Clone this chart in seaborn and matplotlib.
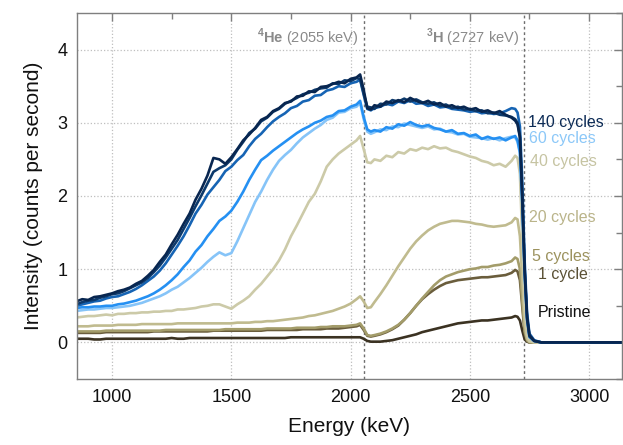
import matplotlib
matplotlib.use("Agg")
import matplotlib.pyplot as plt
from matplotlib.ticker import MultipleLocator
import seaborn as sns
import pandas as pd

# ---------------- data ----------------
energy = [850, 875, 900, 925, 950, 975, 1000, 1025, 1050, 1075, 1100, 1125,
          1150, 1175, 1200, 1225, 1250, 1275, 1300, 1325, 1350, 1375, 1400, 1425,
          1450, 1475, 1500, 1525, 1550, 1575, 1600, 1625, 1650, 1675, 1700, 1725,
          1750, 1775, 1800, 1825, 1850, 1875, 1900, 1925, 1950, 1975, 2000, 2025,
          2040, 2055, 2070, 2085,
          2100, 2125, 2150, 2175, 2200, 2225, 2250, 2275, 2300, 2325, 2350, 2375,
          2400, 2425, 2450, 2475, 2500, 2525, 2550, 2575, 2600, 2625, 2650, 2675,
          2690, 2700, 2710, 2720, 2730, 2740, 2750, 2770, 2800, 3150]

pristine = [0.05, 0.05, 0.05, 0.04, 0.04, 0.05, 0.05, 0.05, 0.05, 0.05, 0.05, 0.05,
            0.05, 0.05, 0.05, 0.05, 0.06, 0.05, 0.05, 0.06, 0.06, 0.06, 0.06, 0.06,
            0.06, 0.06, 0.06, 0.06, 0.06, 0.06, 0.06, 0.06, 0.06, 0.06, 0.06, 0.06,
            0.07, 0.07, 0.07, 0.07, 0.07, 0.07, 0.07, 0.07, 0.07, 0.07, 0.07, 0.07,
            0.07, 0.05, 0.02, 0.01,
            0.01, 0.01, 0.02, 0.03, 0.05, 0.07, 0.09, 0.11, 0.14, 0.16, 0.18, 0.20,
            0.22, 0.24, 0.26, 0.27, 0.28, 0.29, 0.30, 0.30, 0.31, 0.32, 0.33, 0.34,
            0.36, 0.35, 0.30, 0.16, 0.04, 0.01, 0.0, 0.0, 0.0, 0.0]
cyc1 = [0.13, 0.13, 0.13, 0.13, 0.13, 0.14, 0.14, 0.14, 0.14, 0.14, 0.14, 0.14,
        0.14, 0.15, 0.15, 0.15, 0.15, 0.15, 0.15, 0.15, 0.15, 0.15, 0.15, 0.16,
        0.16, 0.16, 0.16, 0.16, 0.16, 0.16, 0.16, 0.16, 0.17, 0.17, 0.17, 0.17,
        0.17, 0.17, 0.18, 0.18, 0.18, 0.18, 0.19, 0.19, 0.19, 0.20, 0.21, 0.22,
        0.24, 0.17, 0.09, 0.08,
        0.09, 0.11, 0.14, 0.18, 0.23, 0.31, 0.40, 0.50, 0.59, 0.66, 0.72, 0.77,
        0.81, 0.83, 0.85, 0.86, 0.87, 0.88, 0.89, 0.89, 0.90, 0.91, 0.92, 0.95,
        0.99, 0.97, 0.85, 0.48, 0.12, 0.02, 0.0, 0.0, 0.0, 0.0]
cyc5 = [0.15, 0.15, 0.15, 0.15, 0.15, 0.16, 0.16, 0.16, 0.16, 0.16, 0.16, 0.16,
        0.16, 0.16, 0.16, 0.17, 0.17, 0.17, 0.17, 0.17, 0.17, 0.17, 0.17, 0.17,
        0.17, 0.18, 0.18, 0.18, 0.18, 0.18, 0.18, 0.18, 0.19, 0.19, 0.19, 0.19,
        0.19, 0.20, 0.20, 0.20, 0.20, 0.21, 0.21, 0.22, 0.22, 0.22, 0.23, 0.24,
        0.26, 0.19, 0.10, 0.09,
        0.10, 0.12, 0.15, 0.19, 0.24, 0.31, 0.40, 0.50, 0.60, 0.69, 0.78, 0.85,
        0.90, 0.93, 0.96, 0.98, 1.00, 1.01, 1.03, 1.03, 1.05, 1.06, 1.08, 1.11,
        1.16, 1.14, 1.00, 0.55, 0.15, 0.03, 0.0, 0.0, 0.0, 0.0]
cyc20 = [0.22, 0.22, 0.22, 0.23, 0.23, 0.23, 0.23, 0.24, 0.24, 0.24, 0.24, 0.25,
         0.25, 0.25, 0.25, 0.25, 0.25, 0.26, 0.26, 0.26, 0.26, 0.26, 0.26, 0.26,
         0.26, 0.26, 0.26, 0.27, 0.27, 0.27, 0.28, 0.28, 0.29, 0.29, 0.30, 0.31,
         0.32, 0.33, 0.34, 0.36, 0.37, 0.39, 0.41, 0.43, 0.46, 0.49, 0.53, 0.59,
         0.63, 0.56, 0.47, 0.48,
         0.55, 0.66, 0.78, 0.91, 1.04, 1.16, 1.28, 1.38, 1.46, 1.53, 1.58, 1.62,
         1.64, 1.66, 1.66, 1.65, 1.64, 1.62, 1.61, 1.59, 1.58, 1.59, 1.60, 1.64,
         1.70, 1.68, 1.45, 0.85, 0.25, 0.05, 0.01, 0.0, 0.0, 0.0]
cyc40 = [0.34, 0.35, 0.36, 0.36, 0.37, 0.38, 0.37, 0.39, 0.39, 0.40, 0.40, 0.41,
         0.41, 0.42, 0.42, 0.43, 0.43, 0.45, 0.45, 0.46, 0.47, 0.49, 0.50, 0.52,
         0.52, 0.49, 0.46, 0.52, 0.57, 0.63, 0.72, 0.80, 0.90, 1.00, 1.12, 1.27,
         1.45, 1.60, 1.76, 1.92, 2.03, 2.20, 2.40, 2.50, 2.58, 2.64, 2.70, 2.76,
         2.82, 2.64, 2.46, 2.45,
         2.50, 2.48, 2.55, 2.53, 2.60, 2.58, 2.64, 2.62, 2.66, 2.64, 2.68, 2.65,
         2.66, 2.62, 2.60, 2.57, 2.54, 2.52, 2.48, 2.46, 2.42, 2.44, 2.40, 2.48,
         2.55, 2.52, 2.30, 1.40, 0.45, 0.10, 0.02, 0.0, 0.0, 0.0]
cyc60 = [0.43, 0.44, 0.45, 0.45, 0.46, 0.47, 0.47, 0.48, 0.49, 0.50, 0.52, 0.54,
         0.57, 0.60, 0.63, 0.67, 0.72, 0.76, 0.82, 0.88, 0.95, 1.02, 1.10, 1.17,
         1.23, 1.19, 1.22, 1.38, 1.56, 1.74, 1.92, 2.06, 2.22, 2.36, 2.48, 2.56,
         2.63, 2.72, 2.80, 2.86, 2.92, 2.97, 3.04, 3.07, 3.14, 3.15, 3.20, 3.22,
         3.27, 3.05, 2.88, 2.85,
         2.87, 2.91, 2.90, 2.95, 2.94, 2.99, 2.97, 2.95, 2.93, 2.95, 2.91, 2.92,
         2.88, 2.87, 2.84, 2.85, 2.81, 2.80, 2.79, 2.77, 2.79, 2.76, 2.79, 2.81,
         2.80, 2.74, 2.58, 1.85, 0.90, 0.30, 0.07, 0.02, 0.0, 0.0]
cyc80 = [0.47, 0.48, 0.48, 0.49, 0.49, 0.50, 0.50, 0.52, 0.53, 0.55, 0.57, 0.60,
         0.63, 0.67, 0.72, 0.78, 0.85, 0.93, 1.03, 1.12, 1.24, 1.33, 1.45, 1.55,
         1.66, 1.72, 1.80, 1.92, 2.06, 2.22, 2.36, 2.49, 2.55, 2.62, 2.68, 2.74,
         2.80, 2.86, 2.91, 2.95, 3.00, 3.03, 3.08, 3.10, 3.16, 3.17, 3.22, 3.25,
         3.30, 3.08, 2.91, 2.88,
         2.90, 2.88, 2.94, 2.92, 2.98, 2.96, 3.01, 2.97, 2.95, 2.97, 2.93, 2.91,
         2.88, 2.90, 2.85, 2.86, 2.82, 2.84, 2.78, 2.81, 2.78, 2.80, 2.76, 2.80,
         2.82, 2.76, 2.60, 1.90, 0.95, 0.32, 0.08, 0.02, 0.0, 0.0]
cyc100 = [0.50, 0.52, 0.54, 0.56, 0.57, 0.60, 0.62, 0.63, 0.66, 0.69, 0.73, 0.78,
          0.84, 0.90, 0.98, 1.08, 1.20, 1.32, 1.45, 1.60, 1.76, 1.88, 2.02, 2.12,
          2.22, 2.34, 2.40, 2.49, 2.56, 2.68, 2.78, 2.85, 2.94, 3.02, 3.08, 3.13,
          3.20, 3.23, 3.29, 3.31, 3.37, 3.38, 3.44, 3.46, 3.50, 3.49, 3.54, 3.56,
          3.59, 3.38, 3.19, 3.17,
          3.20, 3.22, 3.26, 3.24, 3.29, 3.27, 3.31, 3.26, 3.27, 3.23, 3.25, 3.21,
          3.22, 3.19, 3.18, 3.17, 3.15, 3.16, 3.13, 3.14, 3.12, 3.13, 3.16, 3.20,
          3.19, 3.14, 2.95, 2.20, 1.10, 0.40, 0.12, 0.03, 0.0, 0.0]
cyc120 = [0.52, 0.55, 0.57, 0.58, 0.61, 0.63, 0.66, 0.67, 0.70, 0.74, 0.78, 0.82,
          0.88, 0.96, 1.05, 1.16, 1.28, 1.40, 1.55, 1.70, 1.86, 2.01, 2.17, 2.33,
          2.38, 2.42, 2.50, 2.63, 2.74, 2.86, 2.92, 3.02, 3.07, 3.15, 3.19, 3.26,
          3.30, 3.34, 3.39, 3.41, 3.45, 3.47, 3.48, 3.54, 3.53, 3.58, 3.57, 3.61,
          3.60, 3.40, 3.22, 3.21,
          3.19, 3.26, 3.25, 3.31, 3.29, 3.33, 3.29, 3.32, 3.28, 3.26, 3.28, 3.23,
          3.25, 3.20, 3.22, 3.18, 3.19, 3.16, 3.17, 3.13, 3.14, 3.11, 3.10, 3.08,
          3.05, 3.00, 2.82, 1.95, 0.95, 0.32, 0.08, 0.02, 0.0, 0.0]
cyc140 = [0.56, 0.59, 0.58, 0.62, 0.63, 0.65, 0.67, 0.70, 0.72, 0.75, 0.80, 0.84,
          0.91, 0.99, 1.10, 1.20, 1.34, 1.47, 1.62, 1.76, 1.95, 2.10, 2.28, 2.52,
          2.50, 2.44, 2.53, 2.64, 2.76, 2.84, 2.93, 3.04, 3.08, 3.16, 3.20, 3.27,
          3.29, 3.36, 3.37, 3.43, 3.42, 3.49, 3.50, 3.53, 3.56, 3.54, 3.60, 3.62,
          3.66, 3.45, 3.20, 3.18,
          3.24, 3.22, 3.29, 3.27, 3.31, 3.28, 3.34, 3.30, 3.27, 3.30, 3.25, 3.27,
          3.22, 3.24, 3.20, 3.22, 3.18, 3.20, 3.15, 3.17, 3.13, 3.16, 3.11, 3.07,
          3.03, 2.98, 2.80, 2.00, 1.00, 0.35, 0.10, 0.02, 0.0, 0.0]

series_names = ["Pristine", "1 cycle", "5 cycles", "20 cycles", "40 cycles",
                "60 cycles", "80 cycles", "100 cycles", "120 cycles", "140 cycles"]
series_values = [pristine, cyc1, cyc5, cyc20, cyc40, cyc60, cyc80, cyc100, cyc120, cyc140]
line_colors = ["#3b3222", "#6a5d3c", "#a39c6a", "#c0bb8f", "#cccaa8",
               "#86c4f8", "#2590f2", "#1664b4", "#0d3a6c", "#082650"]

labels = ["140 cycles", "60 cycles", "40 cycles", "20 cycles", "5 cycles", "1 cycle", "Pristine"]
label_x = [2742, 2750, 2752, 2748, 2760, 2784, 2784]
label_y = [3.00, 2.78, 2.47, 1.71, 1.18, 0.93, 0.41]
label_colors = ["#0b2a55", "#8cc8f8", "#c6c4a2", "#bab48a", "#9c925e", "#5a5034", "#111111"]

peaks = [2055, 2727]
peak_labels = [r"$^{\mathbf{4}}\mathbf{He}$ (2055 keV)", r"$^{\mathbf{3}}\mathbf{H}$ (2727 keV)"]

for vals in series_values:
    assert len(vals) == len(energy)

# ---------------- frame ----------------
rows = []
for name, vals in zip(series_names, series_values):
    for e, v in zip(energy, vals):
        rows.append({"Energy": e, "Intensity": v, "series": name})
df = pd.DataFrame(rows)

sns.set_style("white")
plt.rcParams["font.family"] = ["Liberation Sans", "DejaVu Sans"]
plt.rcParams["mathtext.fontset"] = "custom"
plt.rcParams["mathtext.rm"] = "Liberation Sans"
plt.rcParams["mathtext.bf"] = "Liberation Sans:bold"

fig = plt.figure(figsize=(6.23, 4.45), dpi=100)
ax = fig.add_axes([77 / 623, 1 - 379 / 445, (622 - 77) / 623, (379 - 13) / 445])

sns.lineplot(data=df, x="Energy", y="Intensity", hue="series",
             hue_order=series_names, palette=dict(zip(series_names, line_colors)),
             estimator=None, sort=False, linewidth=1.9, legend=False, ax=ax)

ax.set_xlim(853, 3138)
ax.set_ylim(-0.5, 4.5)
ax.xaxis.set_major_locator(MultipleLocator(500))
ax.xaxis.set_minor_locator(MultipleLocator(250))
ax.yaxis.set_major_locator(MultipleLocator(1))
ax.yaxis.set_minor_locator(MultipleLocator(0.5))
ax.grid(True, which="major", linestyle=":", color="#bfbfbf", linewidth=0.9)
ax.set_axisbelow(True)
ax.tick_params(which="both", direction="in", top=True, right=True, color="#7f7f7f",
               labelsize=13, labelcolor="#111111", pad=7)
ax.tick_params(which="major", length=6, width=1)
ax.tick_params(which="minor", length=4, width=1)
for sp in ax.spines.values():
    sp.set_color("#7f7f7f")
    sp.set_linewidth(1)

for p in peaks:
    ax.axvline(p, color="#6e6e6e", linestyle=(0, (2, 2)), linewidth=1, zorder=1)
for p, t in zip(peaks, peak_labels):
    ax.text(p - 20, 4.16, t, ha="right", va="center", fontsize=10.5, color="#8a8a8a")

for t, x, y, c in zip(labels, label_x, label_y, label_colors):
    ax.text(x, y, t, ha="left", va="center", fontsize=11.5, color=c)

ax.set_xlabel("Energy (keV)", fontsize=15, labelpad=8, color="#111111")
ax.set_ylabel("Intensity (counts per second)", fontsize=15, labelpad=10, color="#111111")

fig.savefig("out.png", dpi=100)
